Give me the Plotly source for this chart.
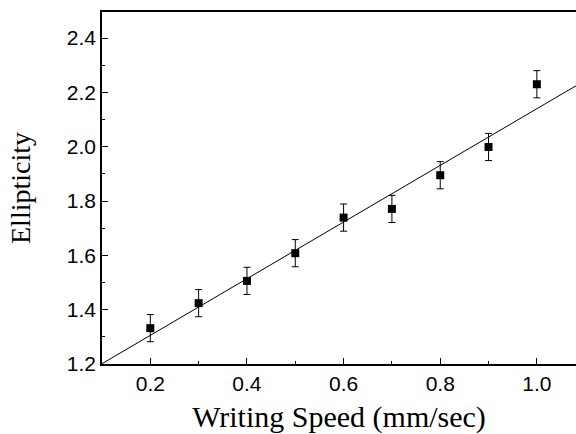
import numpy as np
import plotly.graph_objects as go

speed = [0.2, 0.3, 0.4, 0.5, 0.6, 0.7, 0.8, 0.9, 1.0]
ellipticity = [1.332, 1.424, 1.506, 1.608, 1.739, 1.771, 1.895, 1.999, 2.230]
errors = [0.05, 0.05, 0.05, 0.05, 0.05, 0.05, 0.05, 0.05, 0.05]

x_range = [0.1, 1.081]
y_range = [1.2, 2.496]

slope, intercept = np.polyfit(speed, ellipticity, 1)
fit_x = np.array(x_range)
fit_y = slope * fit_x + intercept

fig = go.Figure()
fig.add_trace(go.Scatter(
    x=fit_x, y=fit_y, mode="lines",
    line=dict(color="black", width=1), showlegend=False, cliponaxis=True))
fig.add_trace(go.Scatter(
    x=speed, y=ellipticity, mode="markers",
    marker=dict(symbol="square", size=8, color="black"),
    error_y=dict(type="data", array=errors, visible=True, color="black",
                 thickness=1, width=3.5),
    showlegend=False))

fig.update_layout(
    width=576, height=434,
    margin=dict(l=102, r=0, t=12, b=70, autoexpand=False),
    plot_bgcolor="white", paper_bgcolor="white",
    font=dict(family="Liberation Sans, Arial", color="black"),
)
fig.update_xaxes(
    range=x_range, showgrid=False, zeroline=False, automargin=False,
    showline=True, linecolor="black", linewidth=1.5, mirror=True,
    ticks="inside", ticklen=6, tickwidth=1, tickcolor="black",
    tickvals=[0.2, 0.4, 0.6, 0.8, 1.0], ticktext=["0.2", "0.4", "0.6", "0.8", "1.0"],
    tickfont=dict(size=21, family="Liberation Sans, Arial"),
    minor=dict(ticks="inside", ticklen=3, tickcolor="black", dtick=0.1, tick0=0.1),
    title=dict(text="Writing Speed (mm/sec)",
               font=dict(size=30, family="Liberation Serif, Times New Roman"),
               standoff=12),
)
fig.update_yaxes(
    range=y_range, showgrid=False, zeroline=False, automargin=False,
    showline=True, linecolor="black", linewidth=1.5, mirror=False,
    ticks="inside", ticklen=6, tickwidth=1, tickcolor="black",
    tickvals=[1.2, 1.4, 1.6, 1.8, 2.0, 2.2, 2.4],
    ticktext=["1.2", "1.4", "1.6", "1.8", "2.0", "2.2", "2.4"],
    tickfont=dict(size=21, family="Liberation Sans, Arial"),
    minor=dict(ticks="inside", ticklen=3, tickcolor="black", dtick=0.1, tick0=1.2),
    title=dict(text="Ellipticity",
               font=dict(size=28, family="Liberation Serif, Times New Roman"),
               standoff=28),
)
fig.write_html("out.html", config={"displayModeBar": False},
               post_script="document.body.style.margin='0';")
